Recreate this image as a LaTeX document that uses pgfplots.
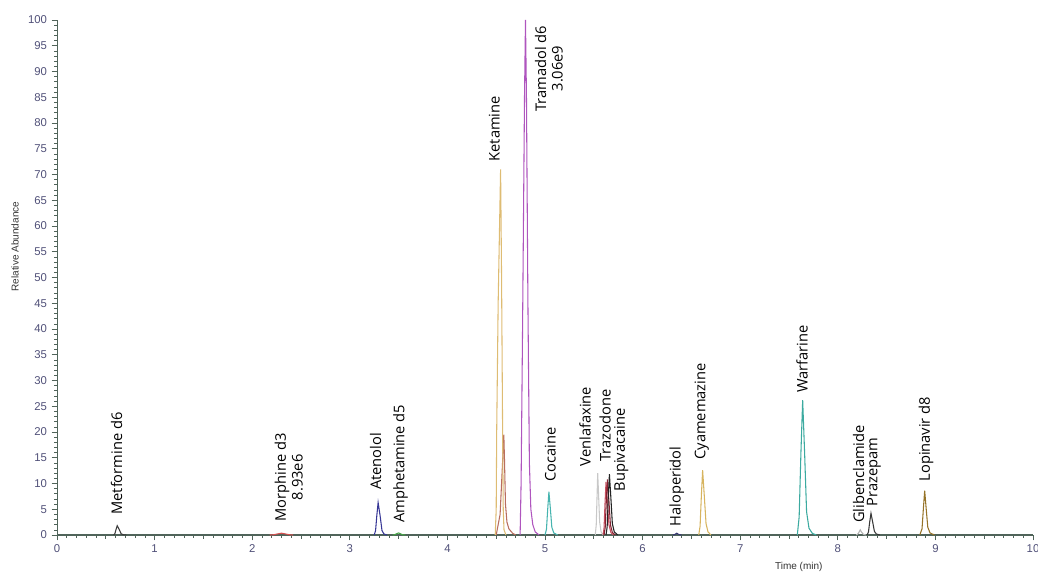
\documentclass[border=0pt]{standalone}
\usepackage{fontspec}
\setmainfont{Open Sans}
\newfontfamily\arialf{Liberation Sans}
\usepackage{pgfplots}
\pgfplotsset{compat=1.18}
\definecolor{axc}{RGB}{80,100,90}
\definecolor{tkl}{RGB}{80,80,120}
\definecolor{cmet}{RGB}{60,60,60}
\definecolor{cmor}{RGB}{215,80,80}
\definecolor{cate}{RGB}{55,55,150}
\definecolor{camp}{RGB}{70,165,70}
\definecolor{cket}{RGB}{222,188,115}
\definecolor{cbrn}{RGB}{185,110,95}
\definecolor{ctra}{RGB}{175,85,190}
\definecolor{ccoc}{RGB}{70,180,175}
\definecolor{cven}{RGB}{200,200,200}
\definecolor{ccri}{RGB}{200,80,95}
\definecolor{ctrz}{RGB}{130,35,50}
\definecolor{cbup}{RGB}{35,35,35}
\definecolor{chal}{RGB}{55,55,115}
\definecolor{ccya}{RGB}{215,180,95}
\definecolor{cwar}{RGB}{60,170,160}
\definecolor{cgli}{RGB}{180,180,180}
\definecolor{cpra}{RGB}{55,55,55}
\definecolor{clop}{RGB}{150,115,40}
\tikzset{lbl/.style={rotate=90, anchor=west, inner sep=0pt, font=\fontsize{11}{12.5}\selectfont, align=center}}
\begin{document}
\begin{tikzpicture}
\path[use as bounding box] (-42.75pt,-29.25pt) rectangle (735.75pt,401.25pt);
\begin{axis}[
  at={(0pt,0pt)}, anchor=south west,
  scale only axis, width=732pt, height=386.25pt,
  xmin=0, xmax=10, ymin=0, ymax=100,
  axis x line*=bottom, axis y line*=left,
  x axis line style={-, draw=axc}, y axis line style={-, draw=axc},
  xtick={0,1,...,10}, ytick={0,5,...,100},
  minor x tick num=9, minor y tick num=4,
  extra x ticks={0.5,1.5,2.5,3.5,4.5,5.5,6.5,7.5,8.5,9.5},
  extra x tick labels={},
  extra x tick style={major tick length=3pt},
  tick align=outside,
  major tick length=4pt, minor tick length=2.2pt,
  tick style={draw=axc, line width=0.5pt},
  every tick label/.append style={font=\arialf\fontsize{8.5}{10}\selectfont, text=tkl},
  /pgf/number format/assume math mode=true,
  xlabel={Time (min)}, ylabel={Relative Abundance},
  xlabel style={font=\arialf\fontsize{7.5}{9}\selectfont, text=black!80, at={(axis description cs:0.76,-0.062)}, anchor=center},
  ylabel style={font=\arialf\fontsize{7.5}{9}\selectfont, text=black!80, at={(axis description cs:-0.043,0.56)}, anchor=center},
  clip=false,
  every axis plot/.append style={line width=0.8pt, mark=none},
]
% baseline
\addplot[color=axc, line width=0.8pt] coordinates {(0,0)(10,0)};
% Metformine d6
\addplot[color=cmet] coordinates {(0.58,0)(0.593,0.24)(0.605,1.09)(0.617,1.8)(0.637,1.09)(0.657,0.24)(0.677,0.05)(0.71,0)};
% Morphine d3
\addplot[color=cmor] coordinates {(2.18,0)(2.22,0.05)(2.26,0.21)(2.3,0.35)(2.34,0.21)(2.38,0.05)(2.42,0)};
% Atenolol
\addplot[color=cate] coordinates {(3.25,0)(3.264,0.85)(3.277,3.82)(3.29,6.3)(3.31,3.82)(3.33,0.85)(3.35,0.2)(3.38,0)};
% Amphetamine d5
\addplot[color=camp] coordinates {(3.44,0)(3.46,0.05)(3.48,0.24)(3.5,0.4)(3.52,0.24)(3.54,0.05)(3.57,0)};
% brown shoulder
\addplot[color=cbrn] coordinates {(4.50,0)(4.54,4)(4.565,14)(4.578,19.5)(4.585,14.5)(4.595,6)(4.61,2.5)(4.63,1.2)(4.67,0.3)(4.70,0)};
% Ketamine
\addplot[color=cket] coordinates {(4.49,0)(4.50,5)(4.505,20)(4.52,45)(4.545,71)(4.555,50)(4.565,22)(4.572,5)(4.58,1)(4.60,0)};
% Tramadol d6
\addplot[color=ctra] coordinates {(4.745,0)(4.755,10)(4.77,40)(4.79,85)(4.80,100)(4.81,85)(4.825,45)(4.84,14)(4.855,5)(4.875,2)(4.90,0.6)(4.94,0)};
% Cocaine
\addplot[color=ccoc] coordinates {(5.0,0)(5.015,1.1)(5.028,5.1)(5.04,8.4)(5.055,5.1)(5.07,1.5)(5.09,0.4)(5.13,0)};
% Venlafaxine
\addplot[color=cven] coordinates {(5.515,0)(5.525,2)(5.533,7.3)(5.54,12)(5.55,7.3)(5.56,2.5)(5.575,0.6)(5.595,0)};
% crimson
\addplot[color=ccri] coordinates {(5.595,0)(5.605,1.4)(5.615,6.2)(5.625,10.3)(5.64,6.2)(5.655,2)(5.675,0.5)(5.70,0)};
% Trazodone
\addplot[color=ctrz] coordinates {(5.605,0)(5.617,1.5)(5.628,6.6)(5.64,10.8)(5.655,6.6)(5.67,2)(5.69,0.5)(5.72,0)};
% Bupivacaine
\addplot[color=cbup] coordinates {(5.625,0)(5.637,1.6)(5.648,7.2)(5.66,11.8)(5.675,7.2)(5.69,2.2)(5.71,0.6)(5.745,0)};
% Haloperidol
\addplot[color=chal] coordinates {(6.31,0)(6.33,0.1)(6.35,0.35)(6.37,0.1)(6.40,0)};
% Cyamemazine
\addplot[color=ccya] coordinates {(6.575,0)(6.589,1.7)(6.602,7.6)(6.615,12.6)(6.632,7.6)(6.65,2.2)(6.67,0.6)(6.70,0)};
% Warfarine
\addplot[color=cwar] coordinates {(7.585,0)(7.604,3.5)(7.622,15.9)(7.64,26.2)(7.66,15.9)(7.68,4.5)(7.705,1.3)(7.74,0.3)(7.78,0)};
% Glibenclamide
\addplot[color=cgli] coordinates {(8.19,0)(8.21,0.3)(8.23,1.0)(8.245,0.5)(8.265,0.1)(8.29,0)};
% Prazepam
\addplot[color=cpra] coordinates {(8.30,0)(8.314,0.57)(8.327,2.55)(8.34,4.2)(8.357,2.55)(8.375,0.7)(8.395,0.2)(8.43,0)};
% Lopinavir d8
\addplot[color=clop] coordinates {(8.84,0)(8.863,1.2)(8.877,5.2)(8.89,8.6)(8.905,5.2)(8.922,1.5)(8.945,0.4)(8.99,0)};
% labels
\node[lbl] at (axis cs:0.61,3.9) {Metformine d6};
\node[lbl] at (axis cs:2.375,2.6) {Morphine d3\\8.93e6};
\node[lbl] at (axis cs:3.265,8.7) {Atenolol};
\node[lbl] at (axis cs:3.52,2.3) {Amphetamine d5};
\node[lbl] at (axis cs:4.48,72.5) {Ketamine};
\node[lbl] at (axis cs:5.04,82.2) {Tramadol d6\\3.06e9};
\node[lbl] at (axis cs:5.055,10.35) {Cocaine};
\node[lbl] at (axis cs:5.41,13.3) {Venlafaxine};
\node[lbl] at (axis cs:5.615,14.2) {Trazodone};
\node[lbl] at (axis cs:5.78,8.4) {Bupivacaine};
\node[lbl] at (axis cs:6.35,1.6) {Haloperidol};
\node[lbl] at (axis cs:6.607,14.6) {Cyamemazine};
\node[lbl] at (axis cs:7.635,27.6) {Warfarine};
\node[lbl] at (axis cs:8.214,2.3) {Glibenclamide};
\node[lbl] at (axis cs:8.37,5.5) {Prazepam};
\node[lbl] at (axis cs:8.905,10.35) {Lopinavir d8};
\end{axis}
\end{tikzpicture}
\end{document}
